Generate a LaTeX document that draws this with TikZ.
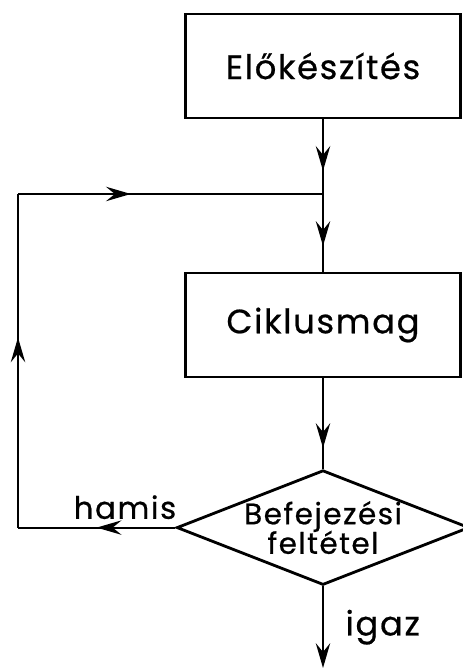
\documentclass[tikz,border=0pt]{standalone}
\usepackage{fontspec}
\setmainfont{Poppins}[FakeBold=0.6, LetterSpace=5]
\usetikzlibrary{shapes.geometric,arrows.meta,decorations.markings}
\tikzset{
  block/.style={draw, line width=2pt, minimum width=6.875cm, minimum height=2.6cm},
  test/.style={draw, diamond, line width=2pt, inner sep=0pt, aspect=2.55,
    minimum width=7.1cm, minimum height=2.78cm, align=center,
    font=\fontsize{21}{25}\selectfont},
  line/.style={line width=1.4pt},
  flow/.style={line, postaction={decorate}, decoration={markings,
    mark=at position #1 with {\arrow{Stealth[length=0.62cm,width=0.36cm,inset=0.22cm]}}}}
}
\begin{document}
\begin{tikzpicture}[font=\fontsize{24}{28}\selectfont]
  \useasboundingbox (0,0) rectangle (11.55,16.75);
  \node [block] (prep) at (8.075,15.1) {Előkészítés};
  \node [block] (core) at (8.075,8.625) {Ciklusmag};
  \node [test] (cond) at (8.075,3.56) {Befejezési\\[-4pt] feltétel};
  \coordinate (join) at (8.075,11.9);
  \coordinate (lowleft) at (0.45,3.56);
  \coordinate (upleft) at (0.45,11.9);
  \coordinate (out) at (8.075,0.05);
  % main flow
  \draw [flow=0.69] (prep) -- (join);
  \draw [flow=0.67] (join) -- (core);
  \draw [flow=0.77] (core) -- (cond);
  \draw [line, -{Stealth[length=0.62cm,width=0.36cm,inset=0.22cm]}] (cond) --
    node [right=12pt, pos=0.5] {igaz} (out);
  % loop back
  \draw [flow=0.5] (cond.west) -- node [above=2pt, pos=0.32,
    font=\fontsize{22}{26}\selectfont] {hamis} (lowleft);
  \draw [flow=0.57] (lowleft) -- (upleft);
  \draw [flow=0.37] (upleft) -- (join);
\end{tikzpicture}
\end{document}
